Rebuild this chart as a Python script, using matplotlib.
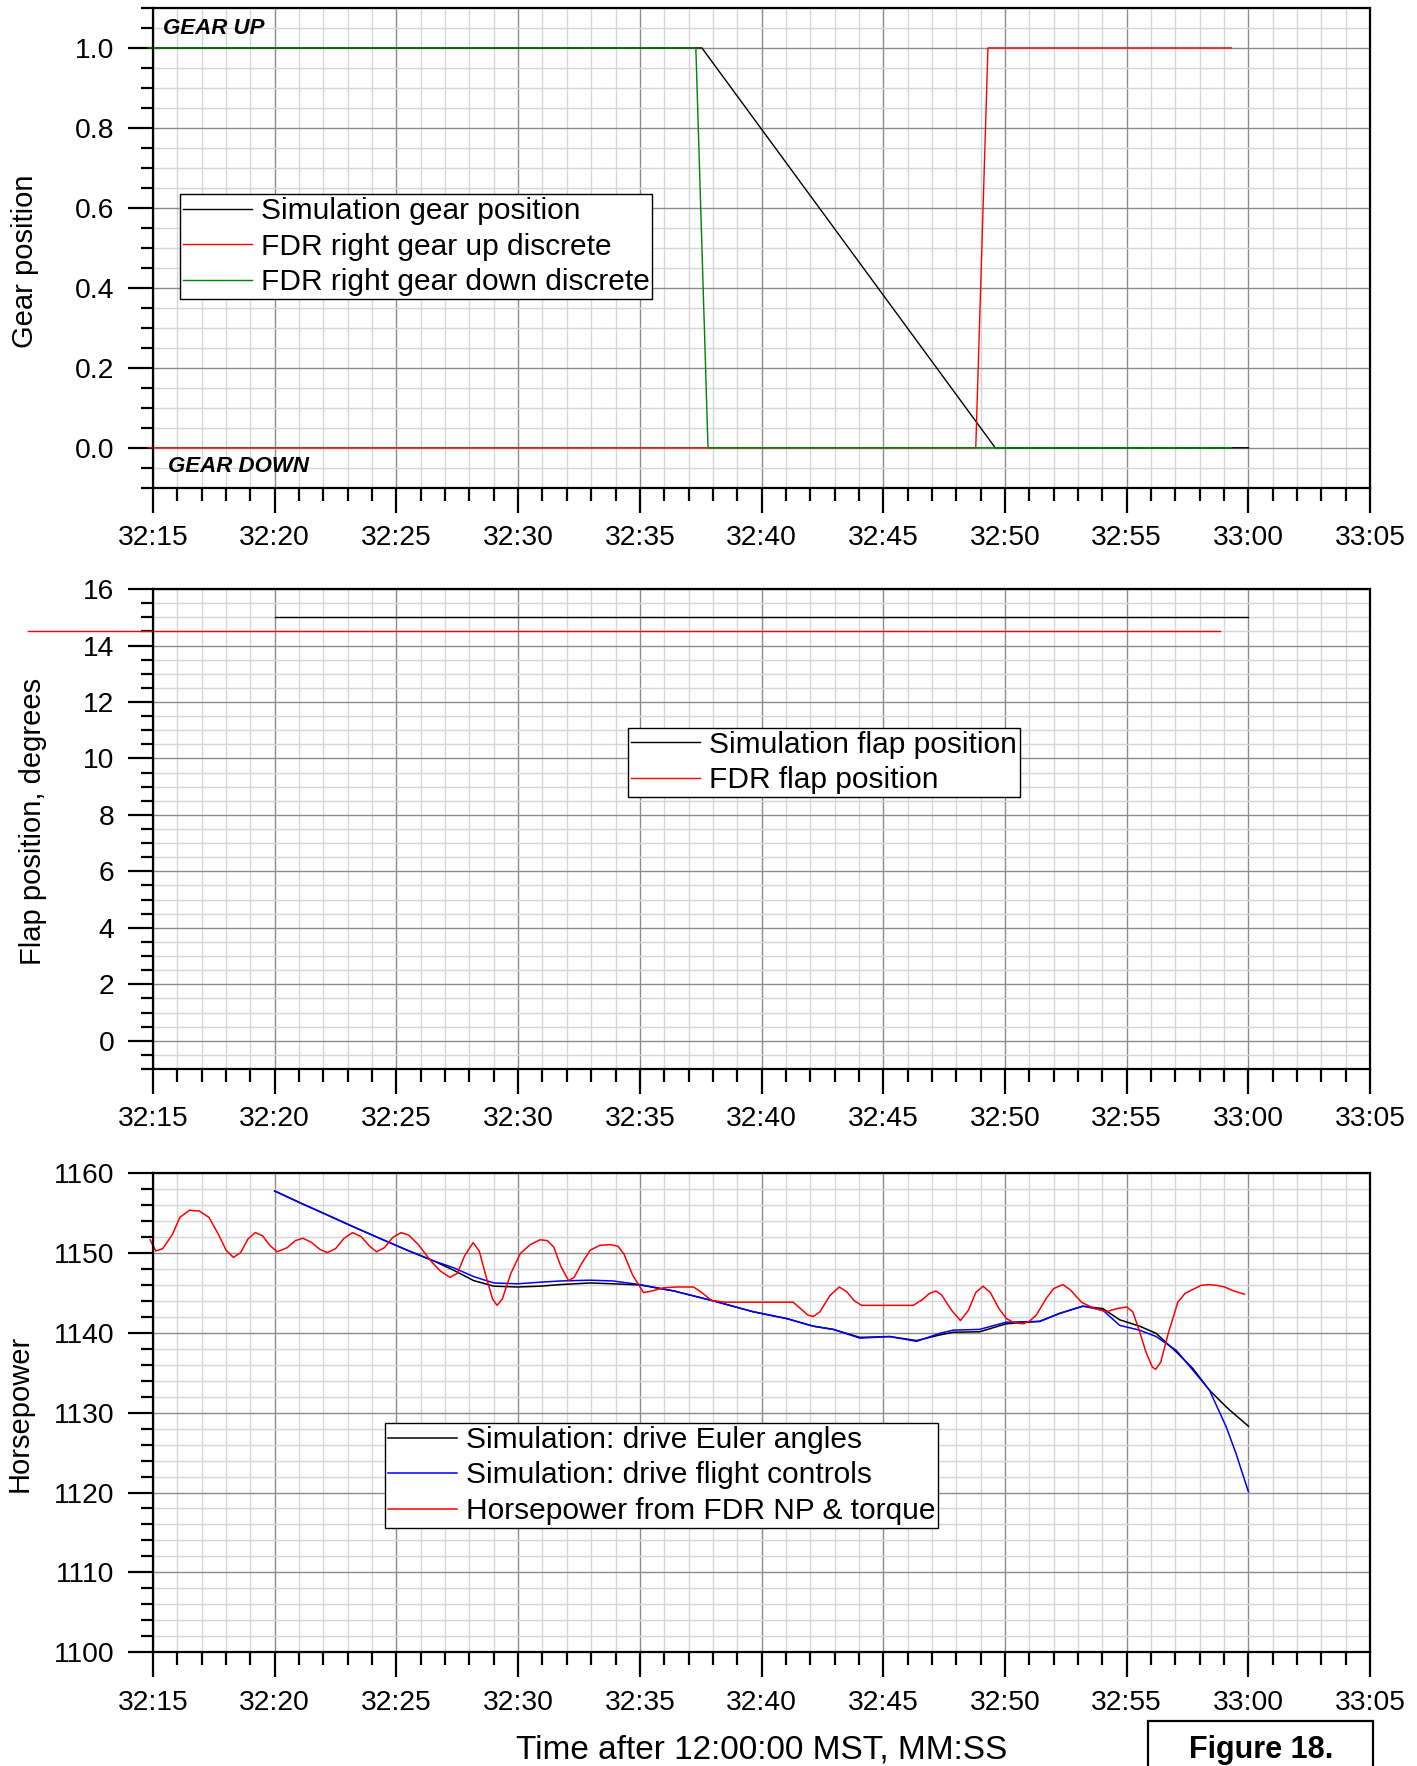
import matplotlib
matplotlib.use("Agg")
import matplotlib.pyplot as plt
from matplotlib.ticker import MultipleLocator, FuncFormatter
from matplotlib.patches import Rectangle

plt.rcParams['font.family'] = ['Liberation Sans', 'DejaVu Sans']

# time in seconds after 32:00
gear_sim_t = [15, 37.55, 49.6, 60]
gear_sim = [1, 1, 0, 0]
gear_up_t = [14.8, 48.8, 49.3, 59.3]
gear_up = [0, 0, 1, 1]
gear_down_t = [14.8, 37.3, 37.8, 59.3]
gear_down = [1, 1, 0, 0]

flap_sim_t = [20, 60]
flap_sim = [15, 15]
flap_fdr_t = [9.86, 58.84]
flap_fdr = [14.5, 14.5]

hp_euler_t = [20.0, 21.06, 22.16, 23.25, 24.34, 25.44, 26.53, 27.35, 28.17, 29.0,
              29.97, 30.91, 31.73, 32.96, 33.9, 35.0, 36.4, 38.02, 39.66, 41.03,
              42.12, 42.94, 44.04, 45.27, 46.37, 47.32, 47.87, 48.96, 50.06, 51.43,
              52.25, 53.2, 54.02, 54.71, 55.53, 56.21, 57.03, 57.72, 58.4, 59.09,
              59.5, 60.0]
hp_euler = [1157.7, 1156.2, 1154.7, 1153.2, 1151.75, 1150.3, 1148.96, 1147.8, 1146.5, 1145.8,
            1145.7, 1145.8, 1146.0, 1146.2, 1146.1, 1145.95, 1145.2, 1143.96, 1142.6, 1141.75,
            1140.8, 1140.4, 1139.4, 1139.5, 1139.0, 1139.7, 1140.04, 1140.1, 1141.1, 1141.4,
            1142.4, 1143.3, 1143.0, 1141.6, 1140.8, 1139.9, 1137.6, 1135.5, 1132.8, 1130.7,
            1129.6, 1128.3]

hp_ctrl_t = hp_euler_t
hp_ctrl = [1157.7, 1156.2, 1154.7, 1153.2, 1151.75, 1150.3, 1148.96, 1148.1, 1147.0, 1146.2,
           1146.1, 1146.3, 1146.45, 1146.55, 1146.45, 1146.0, 1145.2, 1143.96, 1142.6, 1141.75,
           1140.8, 1140.4, 1139.3, 1139.5, 1138.9, 1139.9, 1140.3, 1140.4, 1141.3, 1141.4,
           1142.4, 1143.3, 1142.8, 1140.9, 1140.3, 1139.5, 1137.8, 1135.3, 1132.8, 1128.2,
           1124.8, 1120.1]

hp_fdr_t = [14.88, 15.11, 15.4, 15.8, 16.1, 16.5, 16.9, 17.3, 17.7, 18.0,
            18.3, 18.6, 18.9, 19.2, 19.5, 19.8, 20.1, 20.5, 20.85, 21.15,
            21.5, 21.85, 22.16, 22.5, 22.85, 23.2, 23.55, 23.9, 24.18, 24.5,
            24.85, 25.19, 25.5, 25.9, 26.4, 26.8, 27.2, 27.5, 27.8, 28.15,
            28.4, 28.7, 28.95, 29.13, 29.35, 29.7, 30.09, 30.5, 30.9, 31.2,
            31.46, 31.75, 32.07, 32.3, 32.6, 32.96, 33.35, 33.78, 34.1, 34.35,
            34.7, 35.15, 35.5, 35.97, 36.5, 37.2, 37.5, 37.95, 38.5, 41.3,
            41.6, 41.9, 42.12, 42.4, 42.8, 43.19, 43.5, 43.8, 44.11, 46.23,
            46.6, 46.9, 47.16, 47.4, 47.8, 48.17, 48.5, 48.8, 49.1, 49.4,
            49.75, 50.06, 50.4, 50.74, 51.0, 51.29, 51.7, 52.0, 52.38, 52.7,
            53.14, 53.6, 54.16, 54.6, 55.0, 55.25, 55.5, 55.8, 56.05, 56.19,
            56.4, 56.7, 57.1, 57.4, 57.72, 58.05, 58.4, 58.7, 59.02, 59.4,
            59.84]
hp_fdr = [1151.6, 1150.2, 1150.5, 1152.3, 1154.4, 1155.3, 1155.2, 1154.4, 1152.2, 1150.3,
          1149.4, 1150.0, 1151.7, 1152.5, 1152.1, 1150.9, 1150.1, 1150.6, 1151.5, 1151.8,
          1151.3, 1150.4, 1150.0, 1150.5, 1151.8, 1152.5, 1152.0, 1150.8, 1150.1, 1150.6,
          1151.9, 1152.5, 1152.2, 1151.0, 1149.0, 1147.7, 1146.9, 1147.4, 1149.6, 1151.25,
          1150.2, 1146.8, 1144.2, 1143.4, 1144.2, 1147.4, 1149.9, 1151.0, 1151.6, 1151.5,
          1150.7, 1148.3, 1146.5, 1146.9, 1148.6, 1150.3, 1150.9, 1151.0, 1150.8, 1149.8,
          1147.2, 1145.0, 1145.2, 1145.6, 1145.7, 1145.7, 1145.1, 1144.0, 1143.8, 1143.8,
          1143.0, 1142.2, 1142.0, 1142.6, 1144.6, 1145.7, 1145.1, 1144.0, 1143.4, 1143.4,
          1144.1, 1144.9, 1145.2, 1144.7, 1142.8, 1141.5, 1142.8, 1145.0, 1145.8, 1145.0,
          1143.0, 1141.75, 1141.2, 1141.1, 1141.4, 1142.2, 1144.3, 1145.5, 1146.0, 1145.3,
          1143.8, 1143.1, 1142.6, 1143.0, 1143.2, 1142.6, 1140.4, 1137.5, 1135.7, 1135.4,
          1136.3, 1139.8, 1143.8, 1144.9, 1145.4, 1145.9, 1146.0, 1145.9, 1145.7, 1145.2,
          1144.8]


def mmss(s, pos):
    s = int(round(s))
    return f"{32 + s // 60}:{s % 60:02d}"


def style_axes(ax, ylim, ymajor, yminor, yfmt):
    ax.set_xlim(15, 65)
    ax.set_ylim(*ylim)
    ax.xaxis.set_major_locator(MultipleLocator(5))
    ax.xaxis.set_minor_locator(MultipleLocator(1))
    ax.xaxis.set_major_formatter(FuncFormatter(mmss))
    ax.yaxis.set_major_locator(MultipleLocator(ymajor))
    ax.yaxis.set_minor_locator(MultipleLocator(yminor))
    ax.yaxis.set_major_formatter(FuncFormatter(lambda v, p: yfmt.format(v)))
    ax.grid(which='major', color='#8c8c8c', lw=1.0)
    ax.grid(which='minor', color='#d6d6d6', lw=1.0)
    ax.set_axisbelow(True)
    ax.tick_params(which='major', direction='out', length=18, width=1.6, labelsize=20.3)
    ax.tick_params(which='minor', direction='out', length=9, width=1.6)
    ax.tick_params(axis='x', which='major', pad=9)
    ax.tick_params(axis='y', which='major', pad=10)
    for sp in ax.spines.values():
        sp.set_linewidth(1.6)


def add_legend(ax, anchor):
    leg = ax.legend(loc='upper left', bbox_to_anchor=anchor, bbox_transform=fig.transFigure,
                    fontsize=21.5, frameon=True, fancybox=False, framealpha=1,
                    edgecolor='black', borderpad=0.1, borderaxespad=0, labelspacing=0.25,
                    handlelength=2.3, handletextpad=0.3)
    leg.get_frame().set_linewidth(1.0)
    return leg


fig = plt.figure(figsize=(14.17, 17.66), dpi=100)
left, width, height = 0.108, 0.8589, 0.2717

# gear
ax1 = fig.add_axes([left, 0.7238, width, height])
style_axes(ax1, (-0.1, 1.1), 0.2, 0.05, "{:.1f}")
ax1.plot(gear_sim_t, gear_sim, color='black', lw=1.0, label='Simulation gear position')
ax1.plot(gear_up_t, gear_up, color='#ff0000', lw=1.0, label='FDR right gear up discrete', clip_on=False)
ax1.plot(gear_down_t, gear_down, color='#008000', lw=1.0, label='FDR right gear down discrete', clip_on=False)
ax1.text(15.41, 1.048, 'GEAR UP', fontsize=16, fontweight='bold', fontstyle='italic', va='center')
ax1.text(15.6, -0.048, 'GEAR DOWN', fontsize=16, fontweight='bold', fontstyle='italic', va='center')
ax1.set_ylabel('Gear position', fontsize=21)
add_legend(ax1, (0.127, 0.890))

# flaps
ax2 = fig.add_axes([left, 0.3947, width, height])
style_axes(ax2, (-1, 16), 2, 0.5, "{:.0f}")
ax2.plot(flap_sim_t, flap_sim, color='black', lw=1.0, label='Simulation flap position')
ax2.plot(flap_fdr_t, flap_fdr, color='#ff0000', lw=1.0, label='FDR flap position', clip_on=False)
ax2.set_ylabel('Flap position, degrees', fontsize=21)
add_legend(ax2, (0.4432, 0.5878))

# horsepower
ax3 = fig.add_axes([left, 0.0643, width, height])
style_axes(ax3, (1100, 1160), 10, 2, "{:.0f}")
ax3.plot(hp_euler_t, hp_euler, color='black', lw=1.1, label='Simulation: drive Euler angles',
         solid_joinstyle='round')
ax3.plot(hp_ctrl_t, hp_ctrl, color='#0000ff', lw=1.1, label='Simulation: drive flight controls',
         solid_joinstyle='round')
ax3.plot(hp_fdr_t, hp_fdr, color='#ff0000', lw=1.1, label='Horsepower from FDR NP & torque',
         clip_on=False, solid_joinstyle='round')
ax3.set_ylabel('Horsepower', fontsize=21)
ax3.set_xlabel('Time after 12:00:00 MST, MM:SS', fontsize=24)
ax3.xaxis.set_label_coords(0.5, -0.203)
ax3.xaxis.label.set_verticalalignment('center')
add_legend(ax3, (0.2717, 0.1942))

for ax, yc, xc in [(ax1, 0.473, -0.105), (ax2, 0.515, -0.099), (ax3, 0.498, -0.110)]:
    ax.yaxis.set_label_coords(xc, yc)
    ax.yaxis.label.set_verticalalignment('center')

# figure tag
fig.patches.append(Rectangle((1148 / 1417, -0.02), 225 / 1417, 0.02 + 0.0255,
                             transform=fig.transFigure, fill=False, ec='black', lw=1.6))
fig.text(1261 / 1417, 0.0045, 'Figure 18.', fontsize=22, fontweight='bold', ha='center', va='baseline')

fig.savefig('out.png', dpi=100)
